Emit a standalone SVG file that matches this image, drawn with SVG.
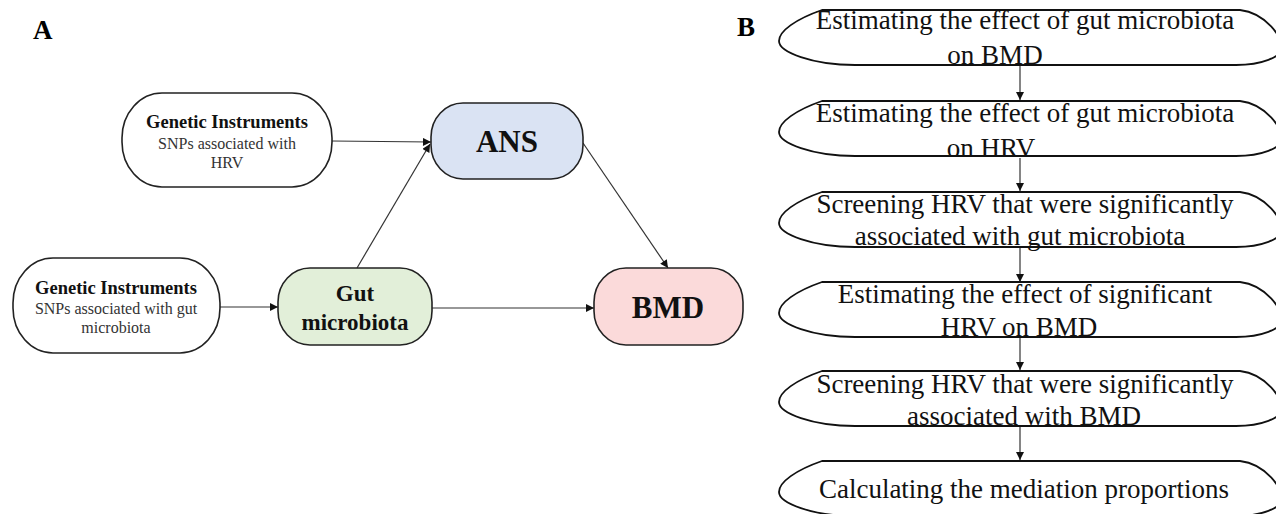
<svg xmlns="http://www.w3.org/2000/svg" width="1276" height="514" viewBox="0 0 1276 514">
<style>
.bg{fill:#ffffff}
.node{stroke:#222;stroke-width:1.6}
.gi{fill:#ffffff}
.lbl{font-family:"Liberation Serif","Times New Roman",serif;fill:#111}
.b{font-weight:bold}
.t18{font-size:18.5px;font-weight:bold}
.t16{font-size:16px;fill:#333}
.big{font-size:31px;font-weight:bold}
.mid{font-size:23px;font-weight:bold}
.step{fill:#ffffff;stroke:#111;stroke-width:1.8}
.stext{font-family:"Liberation Serif","Times New Roman",serif;font-size:27px;fill:#111}
.edge{stroke:#333;stroke-width:1.2;fill:none;marker-end:url(#arr)}
.panel{font-family:"Liberation Serif","Times New Roman",serif;font-size:27px;font-weight:bold;fill:#000}
</style>
<defs>
<marker id="arr" viewBox="0 0 10 10" refX="10" refY="5" markerWidth="9" markerHeight="8" markerUnits="userSpaceOnUse" orient="auto">
<path d="M0,0 L10,5 L0,10 z" fill="#111"/>
</marker>
</defs>
<rect class="bg" x="0" y="0" width="1276" height="514"/>

<text class="panel" x="33" y="39">A</text>
<text class="panel" x="737" y="36">B</text>

<g id="connectors">
<line class="edge" x1="332" y1="141" x2="431" y2="142"/>
<line class="edge" x1="357" y1="268" x2="430" y2="144"/>
<line class="edge" x1="220" y1="307" x2="278" y2="307"/>
<line class="edge" x1="432" y1="308" x2="594" y2="308"/>
<line class="edge" x1="583" y1="143" x2="668" y2="268"/>
<line class="edge" x1="1020" y1="66" x2="1020" y2="100"/>
<line class="edge" x1="1020" y1="158" x2="1020" y2="191"/>
<line class="edge" x1="1020" y1="248" x2="1020" y2="282"/>
<line class="edge" x1="1020" y1="337" x2="1020" y2="370"/>
<line class="edge" x1="1020" y1="427" x2="1020" y2="460"/>
</g>

<g id="gi-hrv">
<rect class="node gi" x="122" y="93" width="210" height="94" rx="40" ry="45"/>
<text class="lbl t18" x="227" y="128" text-anchor="middle">Genetic Instruments</text>
<text class="lbl t16" x="227" y="149" text-anchor="middle">SNPs associated with</text>
<text class="lbl t16" x="227" y="168" text-anchor="middle">HRV</text>
</g>

<g id="gi-gut">
<rect class="node gi" x="13" y="258" width="207" height="95" rx="40" ry="45"/>
<text class="lbl t18" x="116" y="294" text-anchor="middle">Genetic Instruments</text>
<text class="lbl t16" x="116" y="314" text-anchor="middle">SNPs associated with gut</text>
<text class="lbl t16" x="116" y="333" text-anchor="middle">microbiota</text>
</g>

<g id="gut">
<rect class="node" fill="#e2efd9" x="278" y="268" width="154" height="77" rx="32" ry="34"/>
<text class="lbl mid" x="355" y="301" text-anchor="middle">Gut</text>
<text class="lbl mid" x="355" y="330" text-anchor="middle">microbiota</text>
</g>

<g id="ans">
<rect class="node" fill="#dae3f3" x="431" y="103" width="152" height="76" rx="32" ry="34"/>
<text class="lbl big" x="507" y="152" text-anchor="middle">ANS</text>
</g>

<g id="bmd">
<rect class="node" fill="#fbdada" x="594" y="268" width="149" height="77" rx="32" ry="34"/>
<text class="lbl big" x="668" y="318" text-anchor="middle">BMD</text>
</g>

<g id="step1">
<path class="step" transform="translate(0,10)" d="M822,0 L1240,0 C1266,3 1283,28 1282,38 C1281,47 1262,55 1236,55 L855,55 C812,55 779,42 779,31 C779,21 796,9 822,0 Z"/>
<text class="stext" x="1025" y="29" text-anchor="middle">Estimating the effect of gut microbiota</text>
<text class="stext" x="995" y="64" text-anchor="middle">on BMD</text>
</g>

<g id="step2">
<path class="step" transform="translate(0,101)" d="M822,0 L1240,0 C1266,3 1283,28 1282,38 C1281,47 1262,55 1236,55 L855,55 C812,55 779,42 779,31 C779,21 796,9 822,0 Z"/>
<text class="stext" x="1025" y="122" text-anchor="middle">Estimating the effect of gut microbiota</text>
<text class="stext" x="991" y="157" text-anchor="middle">on HRV</text>
</g>

<g id="step3">
<path class="step" transform="translate(0,192)" d="M822,0 L1240,0 C1266,3 1283,28 1282,38 C1281,47 1262,55 1236,55 L855,55 C812,55 779,42 779,31 C779,21 796,9 822,0 Z"/>
<text class="stext" x="1025" y="213" text-anchor="middle">Screening HRV that were significantly</text>
<text class="stext" x="1020" y="245" text-anchor="middle">associated with gut microbiota</text>
</g>

<g id="step4">
<path class="step" transform="translate(0,282)" d="M822,0 L1240,0 C1266,3 1283,28 1282,38 C1281,47 1262,55 1236,55 L855,55 C812,55 779,42 779,31 C779,21 796,9 822,0 Z"/>
<text class="stext" x="1025" y="303" text-anchor="middle">Estimating the effect of significant</text>
<text class="stext" x="1019" y="336" text-anchor="middle">HRV on BMD</text>
</g>

<g id="step5">
<path class="step" transform="translate(0,371)" d="M822,0 L1240,0 C1266,3 1283,28 1282,38 C1281,47 1262,55 1236,55 L855,55 C812,55 779,42 779,31 C779,21 796,9 822,0 Z"/>
<text class="stext" x="1025" y="393" text-anchor="middle">Screening HRV that were significantly</text>
<text class="stext" x="1024" y="425" text-anchor="middle">associated with BMD</text>
</g>

<g id="step6">
<path class="step" transform="translate(0,461)" d="M822,0 L1240,0 C1266,3 1283,28 1282,38 C1281,47 1262,55 1236,55 L855,55 C812,55 779,42 779,31 C779,21 796,9 822,0 Z"/>
<text class="stext" x="1024" y="498" text-anchor="middle">Calculating the mediation proportions</text>
</g>
</svg>
